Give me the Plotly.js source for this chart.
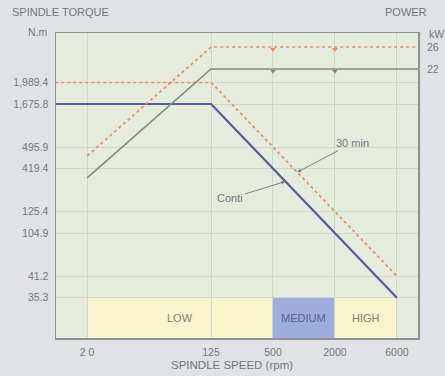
<!DOCTYPE html>
<html>
<head>
<meta charset="utf-8">
<script src="https://cdn.plot.ly/plotly-3.0.1.min.js"></script>
<style>
  html, body { margin: 0; padding: 0; background: #dfe3e6; }
  #chart { width: 445px; height: 376px; }
</style>
</head>
<body>
<div id="chart"></div>
<script>
// ---- data ----
// The speed and torque axes of the original are schematic (tick spacing is not
// proportional), so both are category axes; placeholder categories keep the spacing.
const speedCategories  = ['start', 20, 'gap', 125, 500, 2000, 6000, 'end'];
const speedTicks       = [20, 125, 500, 2000, 6000];
const speedLabels      = ['2 0', '125', '500', '2000', '6000'];
const torqueCategories = ['gap a', 35.3, 41.2, 'gap b', 104.9, 125.4, 'gap c', 419.4, 495.9, 'gap d', 1675.8, 1989.4];
const torqueTicks      = [1989.4, 1675.8, 495.9, 419.4, 125.4, 104.9, 41.2, 35.3];
const torqueLabels     = ['1,989.4', '1,675.8', '495.9', '419.4', '125.4', '104.9', '41.2', '35.3'];
const powerTicks       = [26, 22];
const powerLabels      = ['26', '22'];

// torque curves (N.m)
const contiTorqueSpeed = ['start', 125, 500, 2000, 6000];
const contiTorque      = [1675.8, 1675.8, 419.4, 104.9, 35.3];
const min30TorqueSpeed = ['start', 125, 500, 2000, 6000];
const min30Torque      = [1989.4, 1989.4, 495.9, 125.4, 41.2];

// power curves (kW)
const contiPowerSpeed = [20, 125, 500, 2000, 6000, 'end'];
const contiPower      = [2.2, 22, 22, 22, 22, 22];
const min30PowerSpeed = [20, 125, 500, 2000, 6000, 'end'];
const min30Power      = [6.2, 26, 26, 26, 26, 26];
// small dips at the gear changes
const notchSpeed      = [500, 2000];
const contiNotch      = [21.6, 21.6];
const min30Notch      = [25.6, 25.6];

// speed ranges
const rangeNames = ['LOW', 'MEDIUM', 'HIGH'];
const rangeFrom  = [20, 500, 2000];
const rangeTo    = [500, 2000, 6000];
const rangeTop   = 35.3;

// ---- styling ----
const xRange  = [0.497, 6.341];
const yRange  = [-0.873, 13.30];
const y2Range = [-26.909, 28.545];
const txt = '#72777b';
const gridC = '#cfd8c8';
const lineC = '#8c9293';
const F = 'Liberation Sans, Arial, sans-serif';
const orange = '#f0885a';
const bandColors = ['#f8f4cb', '#9eaddb', '#f8f4cb'];
const bandText = ['#7d7f72', '#596187', '#7d7f72'];

const xi = v => speedCategories.indexOf(v);
const yi = v => torqueCategories.indexOf(v);

const traces = [
  {
    type: 'scatter', mode: 'lines', yaxis: 'y2', showlegend: false, hoverinfo: 'skip',
    x: contiPowerSpeed, y: contiPower,
    line: { color: '#7f8b7f', width: 1.6 }
  },
  {
    type: 'scatter', mode: 'markers', yaxis: 'y2', showlegend: false, hoverinfo: 'skip',
    x: notchSpeed, y: contiNotch,
    marker: { symbol: 'triangle-down', size: 5, color: '#7f8b7f' }
  },
  {
    type: 'scatter', mode: 'lines', yaxis: 'y2', showlegend: false, hoverinfo: 'skip',
    x: min30PowerSpeed, y: min30Power,
    line: { color: orange, width: 1.7, dash: 'dot' }
  },
  {
    type: 'scatter', mode: 'markers', yaxis: 'y2', showlegend: false, hoverinfo: 'skip',
    x: notchSpeed, y: min30Notch,
    marker: { symbol: 'triangle-down', size: 5, color: orange }
  },
  {
    type: 'scatter', mode: 'lines', showlegend: false, hoverinfo: 'skip',
    x: contiTorqueSpeed, y: contiTorque,
    line: { color: '#5659a3', width: 2.2 }
  },
  {
    type: 'scatter', mode: 'lines', showlegend: false, hoverinfo: 'skip',
    x: min30TorqueSpeed, y: min30Torque,
    line: { color: orange, width: 1.7, dash: 'dot' }
  }
];

const shapes = rangeNames.map((n, i) => ({
  type: 'rect', xref: 'x', yref: 'y', layer: 'below',
  x0: xi(rangeFrom[i]), x1: xi(rangeTo[i]), y0: yRange[0], y1: yi(rangeTop),
  fillcolor: bandColors[i], line: { width: 0 }
}));

const bandLabels = rangeNames.map((n, i) => ({
  xref: 'x', yref: 'y', x: (xi(rangeFrom[i]) + xi(rangeTo[i])) / 2,
  y: (yRange[0] + yi(rangeTop)) / 2, text: n, showarrow: false,
  font: { family: F, size: 11, color: bandText[i] }
}));

// arrow tips sit on the curves between 500 and 2000 rpm
const contiT = 0.2, min30T = 0.39;
const tipX = t => xi(500) + t * (xi(2000) - xi(500));
const annotations = [
  { xref: 'paper', yref: 'paper', x: -0.127, y: 1.069, xanchor: 'left', yanchor: 'middle',
    text: 'SPINDLE TORQUE', showarrow: false, font: { family: F, size: 11, color: txt } },
  { xref: 'paper', yref: 'paper', x: -0.017, y: 1.003, xanchor: 'right', yanchor: 'middle',
    text: 'N.m', showarrow: false, font: { family: F, size: 10.5, color: txt } },
  { xref: 'paper', yref: 'paper', x: 0.9655, y: 1.069, xanchor: 'center', yanchor: 'middle',
    text: 'POWER', showarrow: false, font: { family: F, size: 11, color: txt } },
  { xref: 'paper', yref: 'paper', x: 1.025, y: 0.997, xanchor: 'left', yanchor: 'middle',
    text: 'kW', showarrow: false, font: { family: F, size: 10.5, color: txt } },
  { xref: 'paper', yref: 'paper', x: 0.486, y: -0.087, xanchor: 'center', yanchor: 'middle',
    text: 'SPINDLE SPEED (rpm)', showarrow: false, font: { family: F, size: 11.5, color: txt } },
  { xref: 'x', yref: 'y', x: tipX(contiT),
    y: yi(419.4) + contiT * (yi(104.9) - yi(419.4)),
    ax: -55, ay: 17, text: 'Conti', showarrow: true, arrowhead: 2, arrowsize: 0.8,
    arrowwidth: 1, arrowcolor: '#7c8283', font: { family: F, size: 11, color: txt } },
  { xref: 'x', yref: 'y', x: tipX(min30T),
    y: yi(495.9) + min30T * (yi(125.4) - yi(495.9)),
    ax: 55, ay: -29, text: '30 min', showarrow: true, arrowhead: 2, arrowsize: 0.8,
    arrowwidth: 1, arrowcolor: '#7c8283', font: { family: F, size: 11, color: txt } }
].concat(bandLabels);

const axisCommon = {
  type: 'category', categoryorder: 'array',
  showgrid: true, gridcolor: gridC, gridwidth: 1, zeroline: false,
  showline: true, linecolor: lineC, linewidth: 1.5, mirror: true,
  ticks: '', tickmode: 'array', tickfont: { family: F, size: 10.5, color: txt },
  fixedrange: true, ticklabelstandoff: 4
};

const layout = {
  width: 445, height: 376,
  margin: { l: 56, r: 27, t: 33, b: 38, pad: 0 },
  paper_bgcolor: '#dfe3e6', plot_bgcolor: '#e5ebdd',
  showlegend: false,
  xaxis: Object.assign({}, axisCommon, {
    categoryarray: speedCategories, range: xRange, tickvals: speedTicks, ticktext: speedLabels
  }),
  yaxis: Object.assign({}, axisCommon, {
    categoryarray: torqueCategories, range: yRange, tickvals: torqueTicks, ticktext: torqueLabels
  }),
  yaxis2: {
    type: 'linear', range: y2Range, overlaying: 'y', side: 'right', showgrid: false,
    zeroline: false, showline: false, ticks: '', tickmode: 'array',
    tickvals: powerTicks, ticktext: powerLabels, ticklabelstandoff: 8,
    tickfont: { family: F, size: 10.5, color: txt }, fixedrange: true
  },
  shapes: shapes,
  annotations: annotations
};

Plotly.newPlot('chart', traces, layout, { staticPlot: true, displayModeBar: false });
</script>
</body>
</html>
